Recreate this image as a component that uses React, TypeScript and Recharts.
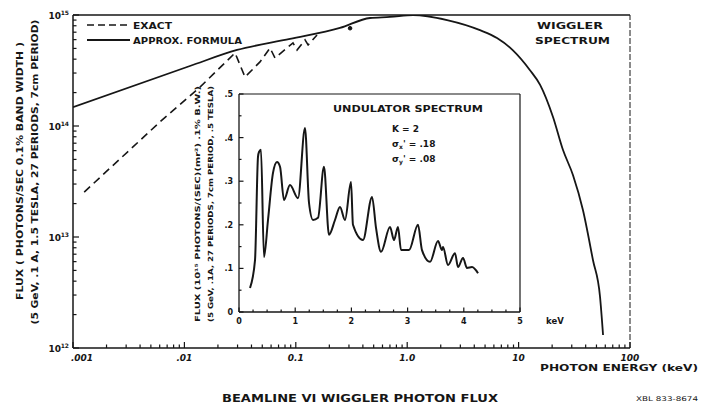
import { LineChart, Line, XAxis, YAxis, ReferenceLine, ReferenceDot } from 'recharts';

// wiggler spectrum, approximate formula (keV, photons/sec/0.1% BW)
const approxEnergy = [0.001, 0.0112, 0.0297, 0.0887, 0.249, 0.464, 0.7, 1.13, 2.28, 4.5, 6.4, 8.9, 12.6, 15.6, 20.4, 25.0, 30.8, 37.8, 46.5, 53.8, 57.3];
const approxFlux = [1.48e14, 3.47e14, 4.84e14, 6.08e14, 7.64e14, 9.4e14, 9.6e14, 1.0e15, 9.0e14, 7.3e14, 6.2e14, 4.8e14, 3.2e14, 2.35e14, 1.2e14, 6.1e13, 3.6e13, 1.75e13, 6.2e12, 2.9e12, 1.31e12];

// wiggler spectrum, exact calculation
const exactEnergy = [0.00126, 0.00604, 0.0138, 0.0285, 0.035, 0.0477, 0.0587, 0.065, 0.0834, 0.0944, 0.1026, 0.121, 0.129, 0.155];
const exactFlux = [2.54e13, 1.09e14, 2.24e14, 4.55e14, 2.76e14, 3.78e14, 5.05e14, 4.1e14, 5.05e14, 5.6e14, 4.84e14, 5.96e14, 5.37e14, 6.6e14];

const exactDot = { e: 0.307, f: 7.6e14 };

// undulator spectrum inset (keV, 10^15 photons/(sec)(mr^2) .1% BW)
const undulatorEnergy = [0.196, 0.285, 0.338, 0.356, 0.391, 0.445, 0.516, 0.605, 0.676, 0.73, 0.801, 0.907, 1.05, 1.174, 1.246, 1.317, 1.406, 1.512, 1.601, 1.708, 1.797, 1.886, 1.993, 2.028, 2.206, 2.367, 2.438, 2.527, 2.687, 2.758, 2.829, 2.883, 3.025, 3.185, 3.256, 3.399, 3.541, 3.612, 3.63, 3.719, 3.843, 3.897, 3.986, 4.057, 4.146, 4.253];
const undulatorFlux = [0.055, 0.119, 0.356, 0.367, 0.372, 0.126, 0.211, 0.319, 0.344, 0.333, 0.257, 0.291, 0.261, 0.422, 0.25, 0.211, 0.216, 0.333, 0.177, 0.211, 0.241, 0.211, 0.298, 0.2, 0.165, 0.264, 0.193, 0.138, 0.195, 0.165, 0.195, 0.142, 0.142, 0.2, 0.142, 0.115, 0.163, 0.142, 0.149, 0.108, 0.135, 0.103, 0.124, 0.101, 0.103, 0.089];

const mainXMajors = [0.001, 0.01, 0.1, 1, 10, 100];
const mainXLabels = ['.001', '.01', '0.1', '1.0', '10', '100'];
const mainYMajors = [1e12, 1e13, 1e14, 1e15];
const mainYExponents = ['12', '13', '14', '15'];
const insetXMajors = [0, 1, 2, 3, 4, 5];
const insetXLabels = ['0', '1', '2', '3', '4', '5'];
const insetYMajors = [0, 0.1, 0.2, 0.3, 0.4, 0.5];
const insetYLabels = ['0', '.1', '.2', '.3', '.4', '.5'];

const approxData = approxEnergy.map((e, i) => ({ e, f: approxFlux[i] }));
const exactData = exactEnergy.map((e, i) => ({ e, f: exactFlux[i] }));
const undulatorData = undulatorEnergy.map((e, i) => ({ e, f: undulatorFlux[i] }));

// log minor ticks 2..9 within each decade
const logTicks = (majors: number[]) => {
  const out: number[] = [];
  majors.forEach((m, i) => {
    out.push(m);
    if (i < majors.length - 1) for (let k = 2; k <= 9; k++) out.push(m * k);
  });
  return out;
};
const linTicks = (max: number, step: number) => {
  const out: number[] = [];
  for (let i = 0; i * step <= max + 1e-9; i++) out.push(Math.round(i * step * 1000) / 1000);
  return out;
};

const INK = '#161616';
const FONT = '"DejaVu Sans", Verdana, sans-serif';

const findMajor = (majors: number[], v: number, log: boolean) =>
  majors.findIndex((m) => (log ? Math.abs(Math.log10(m) - Math.log10(v)) < 1e-6 : Math.abs(m - v) < 1e-6));

// ticks point inward, drawn as thin rects
const MainXTick = (props: any) => {
  const { x, y, payload } = props;
  const idx = findMajor(mainXMajors, payload.value, true);
  const major = idx >= 0;
  const len = major ? 6 : 3.5;
  return (
    <g>
      <rect x={x - 0.6} y={y - len} width={1.2} height={len} fill={INK} />
      {major && (
        <text x={x + (idx === 0 ? 9 : 0)} y={y + 13} textAnchor="middle" fontSize={9} fontWeight="bold" fontStyle="italic" fill={INK} fontFamily={FONT}>
          {mainXLabels[idx]}
        </text>
      )}
    </g>
  );
};

const MainYTick = (props: any) => {
  const { x, y, payload } = props;
  const idx = findMajor(mainYMajors, payload.value, true);
  const major = idx >= 0;
  const len = major ? 6 : 3.5;
  return (
    <g>
      <rect x={x} y={y - 0.6} width={len} height={1.2} fill={INK} />
      {major && (
        <text x={x - 12} y={y + 4} textAnchor="end" fontSize={9} fontWeight="bold" fill={INK} fontFamily={FONT}>
          10
          <tspan x={x - 4} dy={-4} fontSize={6} textAnchor="end">{mainYExponents[idx]}</tspan>
        </text>
      )}
    </g>
  );
};

const InsetXTick = (props: any) => {
  const { x, y, payload } = props;
  const idx = findMajor(insetXMajors, payload.value, false);
  const major = idx >= 0;
  const len = major ? 4.5 : 2.5;
  return (
    <g>
      <rect x={x - 0.6} y={y - len} width={1.2} height={len} fill={INK} />
      {major && (
        <text x={x} y={y + 12} textAnchor="middle" fontSize={8} fontWeight="bold" fill={INK} fontFamily={FONT}>
          {insetXLabels[idx]}
        </text>
      )}
    </g>
  );
};

const InsetYTick = (props: any) => {
  const { x, y, payload } = props;
  const idx = findMajor(insetYMajors, payload.value, false);
  const major = idx >= 0;
  const len = major ? 4.5 : 2.5;
  return (
    <g>
      <rect x={x} y={y - 0.6} width={len} height={1.2} fill={INK} />
      {major && (
        <text x={x - 6} y={y + 3} textAnchor="end" fontSize={8} fontWeight="bold" fill={INK} fontFamily={FONT}>
          {insetYLabels[idx]}
        </text>
      )}
    </g>
  );
};

const T = (p: any) => <text fontFamily={FONT} fontWeight="bold" fill={INK} lengthAdjust="spacingAndGlyphs" {...p} />;

export default function App() {
  return (
    <div style={{ position: 'absolute', left: 0, top: 0, width: 709, height: 405, background: '#fff' }}>
      <div style={{ position: 'absolute', left: 0, top: 0 }}>
        <LineChart width={709} height={405} margin={{ top: 15, right: 79, bottom: 0, left: 0 }}>
          <XAxis
            dataKey="e"
            type="number"
            scale="log"
            domain={[0.001, 100]}
            allowDataOverflow
            ticks={logTicks(mainXMajors)}
            interval={0}
            tickSize={0}
            tickMargin={0}
            tickLine={false}
            tick={<MainXTick />}
            height={57}
            axisLine={{ stroke: INK, strokeWidth: 1.5 }}
          />
          <YAxis
            type="number"
            scale="log"
            domain={[1e12, 1e15]}
            allowDataOverflow
            ticks={logTicks(mainYMajors)}
            interval={0}
            tickSize={0}
            tickMargin={0}
            tickLine={false}
            tick={<MainYTick />}
            width={73}
            axisLine={{ stroke: INK, strokeWidth: 1.5 }}
          />
          <ReferenceLine y={1e15} stroke={INK} strokeWidth={1.3} />
          <ReferenceLine x={100} stroke={INK} strokeWidth={1} strokeDasharray="6 2" />
          <Line data={approxData} dataKey="f" type="monotone" stroke={INK} strokeWidth={1.8} dot={false} isAnimationActive={false} />
          <Line data={exactData} dataKey="f" type="linear" stroke={INK} strokeWidth={1.6} strokeDasharray="8 5" dot={false} isAnimationActive={false} />
          <ReferenceDot x={exactDot.e} y={exactDot.f} r={1.8} fill={INK} stroke={INK} />
        </LineChart>
      </div>
      <div style={{ position: 'absolute', left: 170, top: 84 }}>
        <LineChart width={380} height={250} data={undulatorData} margin={{ top: 10, right: 30, bottom: 0, left: 0 }}>
          <XAxis
            dataKey="e"
            type="number"
            domain={[0, 5]}
            ticks={linTicks(5, 0.25)}
            interval={0}
            tickSize={0}
            tickMargin={0}
            tickLine={false}
            tick={<InsetXTick />}
            height={22}
            axisLine={{ stroke: INK, strokeWidth: 1.3 }}
          />
          <YAxis
            type="number"
            domain={[0, 0.5]}
            ticks={linTicks(0.5, 0.05)}
            interval={0}
            tickSize={0}
            tickMargin={0}
            tickLine={false}
            tick={<InsetYTick />}
            width={69}
            axisLine={{ stroke: INK, strokeWidth: 1.3 }}
          />
          <ReferenceLine y={0.5} stroke={INK} strokeWidth={1.2} />
          <ReferenceLine x={5} stroke={INK} strokeWidth={1.2} />
          <Line dataKey="f" type="monotone" stroke={INK} strokeWidth={2} dot={false} isAnimationActive={false} />
        </LineChart>
      </div>
      <svg width={709} height={405} style={{ position: 'absolute', left: 0, top: 0, pointerEvents: 'none' }}>
        {/* legend */}
        <line x1={87} x2={130} y1={25} y2={25} stroke={INK} strokeWidth={1.6} strokeDasharray="7 4" />
        <T x={133} y={28.5} fontSize={8.5} textLength={39}>EXACT</T>
        <line x1={87} x2={130} y1={40} y2={40} stroke={INK} strokeWidth={1.8} />
        <T x={133} y={43.5} fontSize={8.5} textLength={109}>APPROX. FORMULA</T>

        <T x={537} y={29} fontSize={9.5} textLength={66}>WIGGLER</T>
        <T x={535} y={44} fontSize={9.5} textLength={75}>SPECTRUM</T>

        <T x={333} y={111.5} fontSize={8.5} textLength={150}>UNDULATOR SPECTRUM</T>
        <T x={392} y={131.5} fontSize={9}>K = 2</T>
        <T x={392} y={146.5} fontSize={9}>
          σ<tspan dy={2} fontSize={6}>x</tspan>
          <tspan dy={-2}>' = .18</tspan>
        </T>
        <T x={392} y={161.5} fontSize={9}>
          σ<tspan dy={2} fontSize={6}>y</tspan>
          <tspan dy={-2}>' = .08</tspan>
        </T>
        <T x={546} y={323.5} fontSize={8.5}>keV</T>

        {/* main y title */}
        <T transform="translate(23,171) rotate(-90)" textAnchor="middle" fontSize={9} textLength={258}>
          FLUX ( PHOTONS/SEC 0.1% BAND WIDTH )
        </T>
        <T transform="translate(38,172) rotate(-90)" textAnchor="middle" fontSize={9} textLength={305}>
          (5 GeV, .1 A, 1.5 TESLA, 27 PERIODS, 7cm PERIOD)
        </T>

        {/* inset y title */}
        <T transform="translate(200,204) rotate(-90)" textAnchor="middle" fontSize={7} textLength={236}>
          FLUX (10¹⁵ PHOTONS/(SEC)(mr²) .1% B.W.)
        </T>
        <T transform="translate(213,204) rotate(-90)" textAnchor="middle" fontSize={7} textLength={236}>
          (5 GeV, .1A, 27 PERIODS, 7cm PERIOD, .5 TESLA)
        </T>

        <T x={540} y={371} fontSize={9.5} textLength={158}>PHOTON ENERGY (keV)</T>
        <T x={222} y={402} fontSize={10} textLength={276}>BEAMLINE VI WIGGLER PHOTON FLUX</T>
        <T x={636} y={401} fontSize={6.5} fontWeight="normal" textLength={62}>XBL 833-8674</T>
      </svg>
    </div>
  );
}
